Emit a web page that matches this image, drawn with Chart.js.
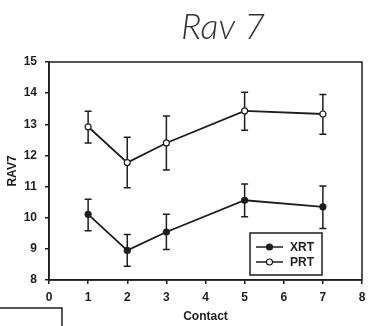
<!DOCTYPE html>
<html>
<head>
<meta charset="utf-8">
<script src="https://cdn.jsdelivr.net/npm/chart.js@4.4.1/dist/chart.umd.min.js"></script>
<style>
  body { margin: 0; background: #fff; }
</style>
</head>
<body>
<canvas id="myChart" width="391" height="326"></canvas>
<script>
// contact number on x, RAV7 mean with error bar ends
const contacts = [1, 2, 3, 5, 7];
const xrtMean = [10.11, 8.95, 9.54, 10.56, 10.35];
const xrtLow = [9.58, 8.44, 8.98, 10.03, 9.65];
const xrtHigh = [10.59, 9.46, 10.11, 11.08, 11.02];
const prtMean = [12.92, 11.77, 12.40, 13.43, 13.33];
const prtLow = [12.40, 10.96, 11.53, 12.81, 12.68];
const prtHigh = [13.42, 12.58, 13.27, 14.03, 13.96];
const xTicks = [0, 1, 2, 3, 4, 5, 6, 7, 8];
const yTicks = [8, 9, 10, 11, 12, 13, 14, 15];

const ink = '#1e1e1e';
const tickFont = { family: 'Liberation Sans', size: 12, weight: 'bold' };

function toPoints(xs, ys) {
    return xs.map(function (x, i) { return { x: x, y: ys[i] }; });
}

// error bars drawn before the lines and markers
const errorBars = {
    id: 'errorBars',
    beforeDatasetsDraw(chart) {
        const ctx = chart.ctx;
        const xs = chart.scales.x, ys = chart.scales.y;
        ctx.save();
        ctx.strokeStyle = ink;
        ctx.lineWidth = 1.5;
        chart.data.datasets.forEach(function (ds) {
            ds.data.forEach(function (p, i) {
                const px = xs.getPixelForValue(p.x);
                const top = ys.getPixelForValue(ds.high[i]);
                const bot = ys.getPixelForValue(ds.low[i]);
                ctx.beginPath();
                ctx.moveTo(px, top); ctx.lineTo(px, bot);
                ctx.moveTo(px - 3.5, top); ctx.lineTo(px + 3.5, top);
                ctx.moveTo(px - 3.5, bot); ctx.lineTo(px + 3.5, bot);
                ctx.stroke();
            });
        });
        ctx.restore();
    }
};

// frame, title, inset legend and the stray box at bottom left
const extras = {
    id: 'extras',
    afterDraw(chart) {
        const ctx = chart.ctx;
        const a = chart.chartArea;
        ctx.save();
        ctx.strokeStyle = ink;
        ctx.lineWidth = 1.5;
        ctx.strokeRect(a.left, a.top, a.right - a.left, a.bottom - a.top);

        ctx.fillStyle = '#333';
        ctx.font = 'italic 300 36px Lato';
        ctx.textAlign = 'center';
        ctx.textBaseline = 'middle';
        ctx.fillText('Rav 7', 223, 27);

        // legend
        const lx = a.right - 112, ly = a.bottom - 47;
        ctx.lineWidth = 1.5;
        ctx.strokeRect(lx, ly, 72, 42);
        ctx.font = 'bold 12px Liberation Sans';
        ctx.textAlign = 'left';
        chart.data.datasets.forEach(function (ds, i) {
            const y = ly + 14 + i * 15;
            ctx.beginPath();
            ctx.moveTo(lx + 6, y); ctx.lineTo(lx + 33, y);
            ctx.stroke();
            ctx.beginPath();
            ctx.arc(lx + 19.5, y, 3, 0, Math.PI * 2);
            ctx.fillStyle = ds.pointBackgroundColor;
            ctx.fill();
            ctx.lineWidth = 1.2;
            ctx.stroke();
            ctx.lineWidth = 1.5;
            ctx.fillStyle = ink;
            ctx.fillText(ds.label, lx + 40, y + 1);
        });

        ctx.beginPath();
        ctx.moveTo(0, 308); ctx.lineTo(62, 308); ctx.lineTo(62, 326);
        ctx.stroke();
        ctx.restore();
    }
};

new Chart(document.getElementById('myChart'), {
    type: 'scatter',
    data: {
        datasets: [{
            label: 'XRT',
            data: toPoints(contacts, xrtMean),
            low: xrtLow, high: xrtHigh,
            showLine: true,
            borderColor: ink, borderWidth: 1.8,
            pointRadius: 3, pointBorderWidth: 1.2,
            pointBackgroundColor: ink, pointBorderColor: ink
        }, {
            label: 'PRT',
            data: toPoints(contacts, prtMean),
            low: prtLow, high: prtHigh,
            showLine: true,
            borderColor: ink, borderWidth: 1.8,
            pointRadius: 3, pointBorderWidth: 1.2,
            pointBackgroundColor: '#fff', pointBorderColor: ink
        }]
    },
    options: {
        responsive: false,
        animation: false,
        layout: { padding: { left: 0, top: 62, right: 29, bottom: 0 } },
        plugins: { legend: { display: false }, tooltip: { enabled: false } },
        scales: {
            x: {
                type: 'linear', min: 0, max: 8,
                afterFit: function (s) { s.height = 46; },
                afterBuildTicks: function (s) { s.ticks = xTicks.map(function (v) { return { value: v }; }); },
                grid: { drawOnChartArea: false, drawTicks: true, tickLength: 4, color: ink, lineWidth: 1.5 },
                border: { color: ink, width: 1.5 },
                ticks: { color: ink, font: tickFont, padding: 6, maxRotation: 0 },
                title: { display: true, text: 'Contact', color: ink, font: tickFont, padding: { top: 0, bottom: 2 } }
            },
            y: {
                min: 8, max: 15,
                afterFit: function (s) { s.width = 49; },
                afterBuildTicks: function (s) { s.ticks = yTicks.map(function (v) { return { value: v }; }); },
                grid: { drawOnChartArea: false, drawTicks: true, tickLength: 4, color: ink, lineWidth: 1.5 },
                border: { color: ink, width: 1.5 },
                ticks: { color: ink, font: tickFont, padding: 8 },
                title: { display: true, text: 'RAV7', color: ink, font: tickFont, padding: { top: 5, bottom: 0 } }
            }
        }
    },
    plugins: [errorBars, extras]
});
</script>
</body>
</html>
